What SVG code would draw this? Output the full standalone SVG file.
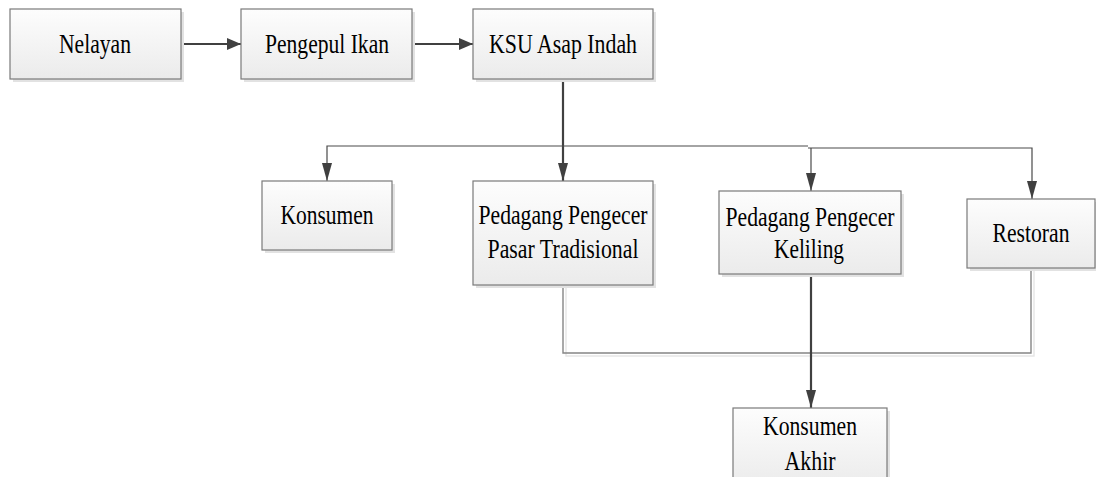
<svg xmlns="http://www.w3.org/2000/svg" width="1096" height="477" viewBox="0 0 1096 477">
<defs>
<linearGradient id="g" x1="0" y1="0" x2="0" y2="1">
<stop offset="0" stop-color="#fdfdfd"/>
<stop offset="1" stop-color="#ebebeb"/>
</linearGradient>
<marker id="ah" viewBox="0 0 14 12" refX="14" refY="6" markerWidth="14" markerHeight="12" markerUnits="userSpaceOnUse" orient="auto">
<path d="M0,0 L14,6 L0,12 Z" fill="#404040"/>
</marker>
<marker id="ahv" viewBox="0 0 18 10" refX="18" refY="5" markerWidth="18" markerHeight="10" markerUnits="userSpaceOnUse" orient="auto">
<path d="M0,0 L18,5 L0,10 Z" fill="#404040"/>
</marker>
</defs>
<style>
.box{fill:url(#g);stroke:#7a7a7a;stroke-width:1.2}
.sh{fill:#e2e2e2}
.thick{fill:none;stroke:#404040;stroke-width:2.2}
.thin{fill:none;stroke:#4a4a4a;stroke-width:1.2}
.gray{fill:none;stroke:#858585;stroke-width:1.4}
.gsh{fill:none;stroke:#e6e6e6;stroke-width:1.4}
</style>
<rect width="1096" height="477" fill="#fff"/>
<g id="connectors">
<path class="gsh" d="M566,287 V356 H1034 V270"/>
<line class="thick" x1="181" y1="44" x2="241" y2="44" marker-end="url(#ah)"/>
<line class="thick" x1="412" y1="44" x2="473" y2="44" marker-end="url(#ah)"/>
<line class="thick" x1="563" y1="79" x2="563" y2="181" marker-end="url(#ahv)"/>
<path class="thin" d="M808,146 H327 V181" marker-end="url(#ahv)"/>
<path class="thin" d="M808,148 H1032 V199" marker-end="url(#ahv)"/>
<line class="thin" x1="811" y1="148" x2="811" y2="191" marker-end="url(#ahv)"/>
<path class="gray" d="M563,285 V353 H1031 V268"/>
<line class="thick" x1="811" y1="274" x2="811" y2="408" marker-end="url(#ahv)"/>
</g>
<g id="nelayan">
<rect class="sh" x="13" y="12" width="171" height="70"/>
<rect class="box" x="10" y="9" width="171" height="70"/>
<text font-family="'Liberation Serif', serif" font-size="28" text-anchor="middle" x="95" y="53" textLength="72" lengthAdjust="spacingAndGlyphs">Nelayan</text>
</g>
<g id="pengepul">
<rect class="sh" x="244" y="12" width="171" height="70"/>
<rect class="box" x="241" y="9" width="171" height="70"/>
<text font-family="'Liberation Serif', serif" font-size="28" text-anchor="middle" x="327" y="53" textLength="124" lengthAdjust="spacingAndGlyphs">Pengepul Ikan</text>
</g>
<g id="ksu">
<rect class="sh" x="476" y="12" width="180" height="70"/>
<rect class="box" x="473" y="9" width="180" height="70"/>
<text font-family="'Liberation Serif', serif" font-size="28" text-anchor="middle" x="563" y="53" textLength="148" lengthAdjust="spacingAndGlyphs">KSU Asap Indah</text>
</g>
<g id="konsumen">
<rect class="sh" x="265" y="184" width="130" height="69"/>
<rect class="box" x="262" y="181" width="130" height="69"/>
<text font-family="'Liberation Serif', serif" font-size="28" text-anchor="middle" x="327" y="224" textLength="93" lengthAdjust="spacingAndGlyphs">Konsumen</text>
</g>
<g id="pasar">
<rect class="sh" x="476" y="184" width="180" height="104"/>
<rect class="box" x="473" y="181" width="180" height="104"/>
<text font-family="'Liberation Serif', serif" font-size="28" text-anchor="middle" x="563" y="224" textLength="169" lengthAdjust="spacingAndGlyphs">Pedagang Pengecer</text>
<text font-family="'Liberation Serif', serif" font-size="28" text-anchor="middle" x="563" y="258" textLength="151" lengthAdjust="spacingAndGlyphs">Pasar Tradisional</text>
</g>
<g id="keliling">
<rect class="sh" x="722" y="194" width="182" height="83"/>
<rect class="box" x="719" y="191" width="182" height="83"/>
<text font-family="'Liberation Serif', serif" font-size="28" text-anchor="middle" x="810" y="226" textLength="169" lengthAdjust="spacingAndGlyphs">Pedagang Pengecer</text>
<text font-family="'Liberation Serif', serif" font-size="28" text-anchor="middle" x="809" y="258" textLength="70" lengthAdjust="spacingAndGlyphs">Keliling</text>
</g>
<g id="restoran">
<rect class="sh" x="970" y="202" width="126" height="69"/>
<rect class="box" x="967" y="199" width="128" height="69"/>
<text font-family="'Liberation Serif', serif" font-size="28" text-anchor="middle" x="1031" y="242" textLength="77" lengthAdjust="spacingAndGlyphs">Restoran</text>
</g>
<g id="akhir">
<rect class="sh" x="736" y="411" width="154" height="80"/>
<rect class="box" x="733" y="408" width="154" height="80"/>
<text font-family="'Liberation Serif', serif" font-size="28" text-anchor="middle" x="810" y="435" textLength="94" lengthAdjust="spacingAndGlyphs">Konsumen</text>
<text font-family="'Liberation Serif', serif" font-size="28" text-anchor="middle" x="810" y="470" textLength="51" lengthAdjust="spacingAndGlyphs">Akhir</text>
</g>
</svg>
